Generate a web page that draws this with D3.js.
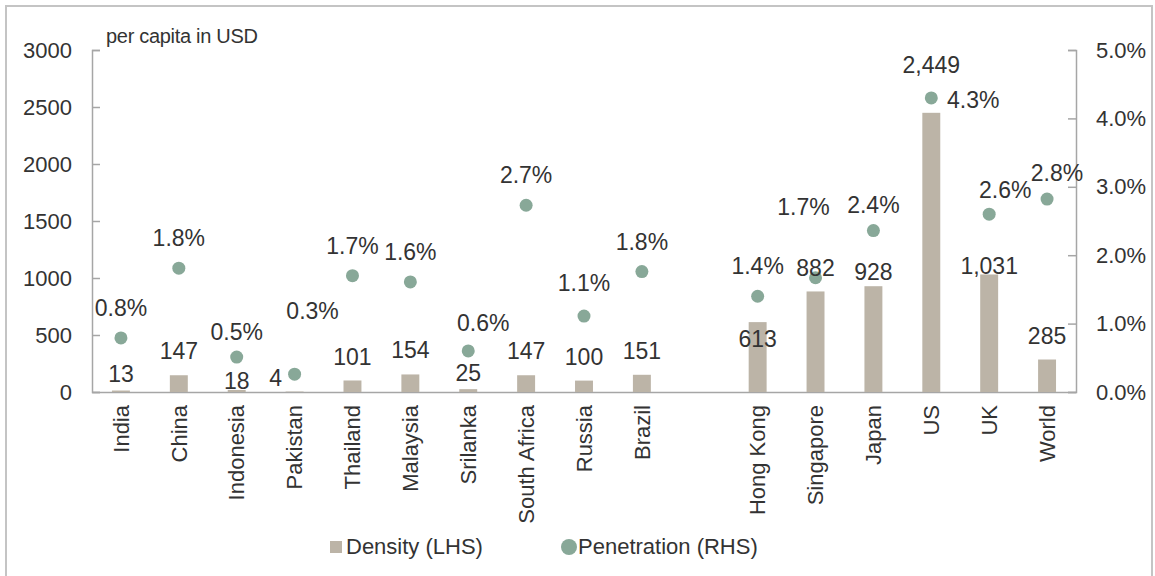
<!DOCTYPE html>
<html>

<head>
  <meta charset="UTF-8">
  <title>Insurance Density and Penetration</title>
  <script src="https://d3js.org/d3.v7.min.js"></script>
  <style>
    body {
      margin: 0;
      background: #fff;
    }

    svg text {
      font-family: "Liberation Sans", Arial, sans-serif;
      fill: #333;
    }

    .axis path,
    .axis line {
      stroke: #a6a6a6;
      stroke-width: 1.5;
    }

    .bar {
      fill: #bcb4a7;
    }

    .dot {
      fill: #88a898;
    }
  </style>
</head>

<body>
  <div id="chart"></div>
  <script>
    // Chart data (blank entry is the gap between emerging and developed markets)
    var categories = ["India", "China", "Indonesia", "Pakistan", "Thailand", "Malaysia", "Srilanka",
      "South Africa", "Russia", "Brazil", "", "Hong Kong", "Singapore", "Japan", "US", "UK", "World"];
    var density = [13, 147, 18, 4, 101, 154, 25, 147, 100, 151, null, 613, 882, 928, 2449, 1031, 285];
    var penetration = [0.79, 1.81, 0.51, 0.26, 1.70, 1.61, 0.60, 2.73, 1.11, 1.76, null,
      1.40, 1.67, 2.36, 4.30, 2.60, 2.82];
    var leftTicks = [0, 500, 1000, 1500, 2000, 2500, 3000];
    var rightTicks = [0, 1, 2, 3, 4, 5];

    // label nudges (px) for labels that were moved by hand in the original
    var densityNudge = {
      "India": [0, 7], "Indonesia": [0, 15], "Pakistan": [-19, 10], "Srilanka": [0, 8],
      "Hong Kong": [0, 41], "Japan": [0, 10], "US": [0, -24], "UK": [0, 15]
    };
    var penNudge = {
      "Indonesia": [0, 5], "Pakistan": [18, -33], "Srilanka": [15, 2], "Russia": [0, -3],
      "Singapore": [-12, -41], "Japan": [0, 4], "US": [42, 32], "UK": [16, 6], "World": [10, 4]
    };

    var width = 1155, height = 576;
    var plotLeft = 92, plotRight = 1076, plotTop = 50, plotBottom = 392;

    var svg = d3.select("#chart").append("svg")
      .attr("width", width)
      .attr("height", height);

    // outer frame
    svg.append("rect")
      .attr("x", 6).attr("y", 6)
      .attr("width", 1146).attr("height", 620)
      .attr("fill", "none")
      .attr("stroke", "#c4c4c4")
      .attr("stroke-width", 2);

    var xScale = d3.scaleBand()
      .domain(categories.map(function (d, i) { return i; }))
      .range([plotLeft, plotRight])
      .paddingInner(0.69)
      .paddingOuter(0.345);

    var yLeft = d3.scaleLinear().domain([0, 3000]).range([plotBottom, plotTop]);
    var yRight = d3.scaleLinear().domain([0, 5]).range([plotBottom, plotTop]);

    var rows = categories.map(function (c, i) {
      return { i: i, name: c, density: density[i], pen: penetration[i] };
    }).filter(function (d) { return d.name !== ""; });

    // axes
    svg.append("g")
      .attr("class", "axis")
      .attr("transform", "translate(" + plotLeft + ",0)")
      .call(d3.axisLeft(yLeft).tickValues(leftTicks).tickSizeInner(-8).tickSizeOuter(-8)
        .tickPadding(20).tickFormat(d3.format("d")))
      .selectAll("text").style("font-size", "22px");

    svg.append("g")
      .attr("class", "axis")
      .attr("transform", "translate(" + plotRight + ",0)")
      .call(d3.axisRight(yRight).tickValues(rightTicks).tickSizeInner(-8).tickSizeOuter(-8)
        .tickPadding(20).tickFormat(function (d) { return d.toFixed(1) + "%"; }))
      .selectAll("text").style("font-size", "22px");

    var xAxis = svg.append("g")
      .attr("class", "axis")
      .attr("transform", "translate(0," + plotBottom + ")")
      .call(d3.axisBottom(xScale).tickSize(0).tickFormat(function (i) { return categories[i]; }));

    xAxis.selectAll("text")
      .style("font-size", "22px")
      .attr("text-anchor", "end")
      .attr("transform", "rotate(-90)")
      .attr("x", -13)
      .attr("y", 0)
      .attr("dy", "0.35em");

    // bars
    svg.selectAll(".bar")
      .data(rows)
      .enter().append("rect")
      .attr("class", "bar")
      .attr("x", function (d) { return xScale(d.i); })
      .attr("y", function (d) { return yLeft(d.density); })
      .attr("width", xScale.bandwidth())
      .attr("height", function (d) { return plotBottom - yLeft(d.density); });

    // dots
    svg.selectAll(".dot")
      .data(rows)
      .enter().append("circle")
      .attr("class", "dot")
      .attr("cx", function (d) { return xScale(d.i) + xScale.bandwidth() / 2; })
      .attr("cy", function (d) { return yRight(d.pen); })
      .attr("r", 6.5);

    // density labels
    svg.selectAll(".dlabel")
      .data(rows)
      .enter().append("text")
      .attr("class", "dlabel")
      .attr("text-anchor", "middle")
      .attr("dy", "0.35em")
      .style("font-size", "23px")
      .attr("x", function (d) {
        var n = densityNudge[d.name] || [0, 0];
        return xScale(d.i) + xScale.bandwidth() / 2 + n[0];
      })
      .attr("y", function (d) {
        var n = densityNudge[d.name] || [0, 0];
        return yLeft(d.density) - 24 + n[1];
      })
      .text(function (d) { return d3.format(",")(d.density); });

    // penetration labels
    svg.selectAll(".plabel")
      .data(rows)
      .enter().append("text")
      .attr("class", "plabel")
      .attr("text-anchor", "middle")
      .attr("dy", "0.35em")
      .style("font-size", "23px")
      .attr("x", function (d) {
        var n = penNudge[d.name] || [0, 0];
        return xScale(d.i) + xScale.bandwidth() / 2 + n[0];
      })
      .attr("y", function (d) {
        var n = penNudge[d.name] || [0, 0];
        return yRight(d.pen) - 30 + n[1];
      })
      .text(function (d) { return d.pen.toFixed(1) + "%"; });

    // unit note
    svg.append("text")
      .attr("x", 106).attr("y", 43)
      .style("font-size", "20px")
      .style("letter-spacing", "-0.3px")
      .text("per capita in USD");

    // legend
    var legend = svg.append("g");
    legend.append("rect")
      .attr("class", "bar")
      .attr("x", 330).attr("y", 541)
      .attr("width", 12).attr("height", 12);
    legend.append("text")
      .attr("x", 346).attr("y", 546).attr("dy", "0.35em")
      .style("font-size", "22px")
      .text("Density (LHS)");
    legend.append("circle")
      .attr("class", "dot")
      .attr("cx", 569).attr("cy", 547).attr("r", 8);
    legend.append("text")
      .attr("x", 578).attr("y", 546).attr("dy", "0.35em")
      .style("font-size", "22px")
      .text("Penetration (RHS)");
  </script>
</body>

</html>
